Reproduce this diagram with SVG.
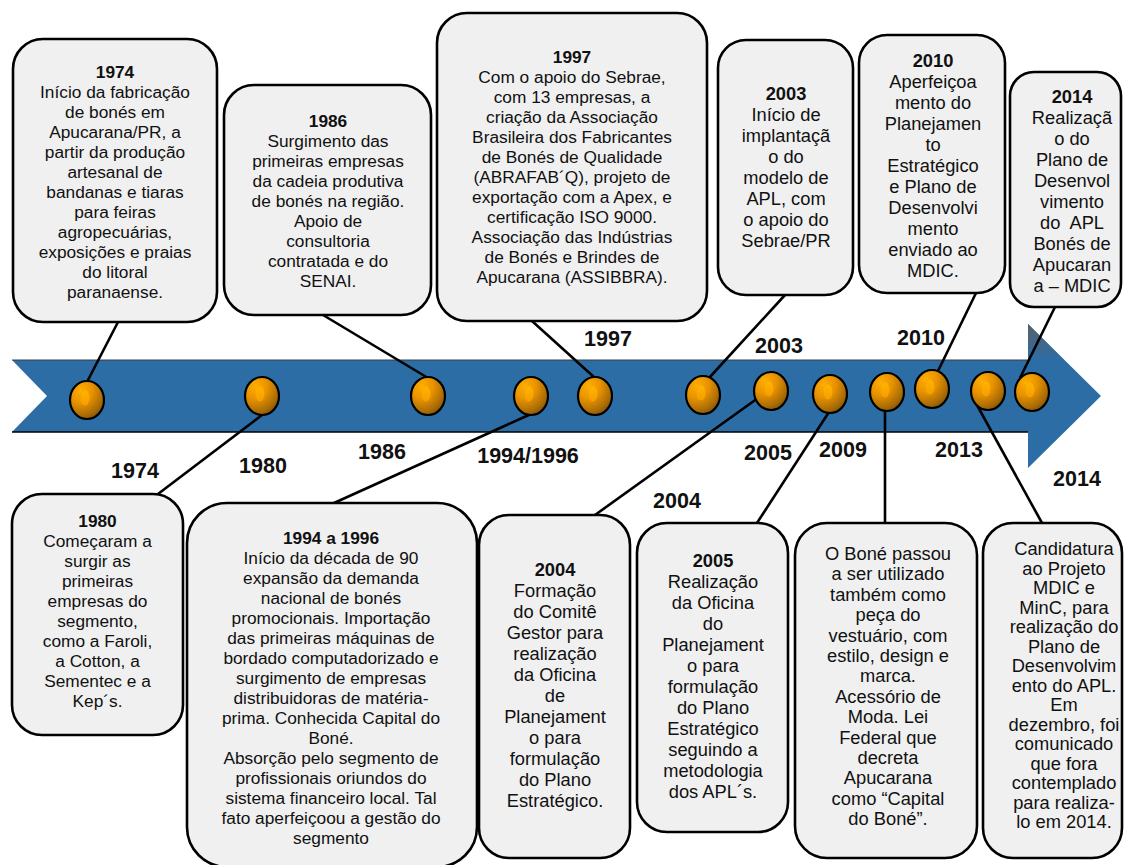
<svg xmlns="http://www.w3.org/2000/svg" width="1124" height="865" viewBox="0 0 1124 865">
  <defs>
    <radialGradient id="bead" cx="0.32" cy="0.25" r="0.85">
      <stop offset="0" stop-color="#FFAE00"/>
      <stop offset="0.4" stop-color="#E89200"/>
      <stop offset="0.8" stop-color="#A66A06"/>
      <stop offset="1" stop-color="#7A4C08"/>
    </radialGradient>
    <linearGradient id="glint" x1="0" y1="0" x2="0" y2="1">
      <stop offset="0" stop-color="#FFB400"/>
      <stop offset="1" stop-color="#F59E00"/>
    </linearGradient>
    <linearGradient id="headShade" x1="0" y1="0" x2="0" y2="1">
      <stop offset="0" stop-color="#5A6068"/>
      <stop offset="1" stop-color="#2D6DA6"/>
    </linearGradient>
    <style>
      .box { fill: #F0F0F0; stroke: #000; stroke-width: 2.6; }
      .link { stroke: #000; stroke-width: 2.6; fill: none; }
      .bead { fill: url(#bead); stroke: #000; stroke-width: 2.2; }
      .glint { fill: url(#glint); }
      .t { font-family: "Liberation Sans", Arial, sans-serif; font-size: 17.3px; text-anchor: middle; fill: #111; white-space: pre; }
      .tn { font-family: "Liberation Sans", Arial, sans-serif; font-size: 18.3px; text-anchor: middle; fill: #111; white-space: pre; }
      .b { font-weight: bold; }
      .yr { font-family: "Liberation Sans", Arial, sans-serif; font-size: 21.5px; font-weight: bold; text-anchor: middle; fill: #111; }
    </style>
  </defs>

  <rect width="1124" height="865" fill="#FFFFFF"/>

  <!-- timeline arrow -->
  <g id="timeline">
    <polygon points="12,360 1028,360 1028,324 1101,396 1028,468 1028,432 12,432 47,396" fill="#2D6DA6"/>
    <polygon points="1028,324 1064,360 1028,360" fill="url(#headShade)"/>
    <line x1="12" y1="360" x2="1028" y2="360" stroke="#3A3F45" stroke-width="1"/>
    <line x1="12" y1="432" x2="1028" y2="432" stroke="#000" stroke-width="1.5"/>
  </g>

  <!-- connectors from beads to event boxes -->
  <g id="connectors">
    <line class="link" x1="118" y1="322" x2="87" y2="382"/>
    <line class="link" x1="262" y1="415" x2="158" y2="494"/>
    <line class="link" x1="323" y1="315" x2="428" y2="378"/>
    <line class="link" x1="531" y1="414" x2="334" y2="503"/>
    <line class="link" x1="595" y1="378" x2="532" y2="321"/>
    <line class="link" x1="709" y1="378" x2="785" y2="295"/>
    <line class="link" x1="758" y1="398" x2="595" y2="515"/>
    <line class="link" x1="829" y1="412" x2="757" y2="523"/>
    <line class="link" x1="885" y1="411" x2="885" y2="523"/>
    <line class="link" x1="938" y1="371" x2="976" y2="293"/>
    <line class="link" x1="972" y1="396" x2="1042" y2="523"/>
    <line class="link" x1="1020" y1="378" x2="1055" y2="307"/>
  </g>

  <!-- beads on the timeline -->
  <g id="beads">
    <g id="bead-1974"><ellipse class="bead" cx="87" cy="400" rx="17" ry="19"/><ellipse class="glint" cx="85" cy="398" rx="4.5" ry="7.5"/></g>
    <g id="bead-1980"><ellipse class="bead" cx="262" cy="396" rx="17" ry="19"/><ellipse class="glint" cx="260" cy="394" rx="4.5" ry="7.5"/></g>
    <g id="bead-1986"><ellipse class="bead" cx="428" cy="396" rx="17" ry="19"/><ellipse class="glint" cx="426" cy="394" rx="4.5" ry="7.5"/></g>
    <g id="bead-1994"><ellipse class="bead" cx="531" cy="396" rx="17" ry="19"/><ellipse class="glint" cx="529" cy="394" rx="4.5" ry="7.5"/></g>
    <g id="bead-1997"><ellipse class="bead" cx="595" cy="396" rx="17" ry="19"/><ellipse class="glint" cx="593" cy="394" rx="4.5" ry="7.5"/></g>
    <g id="bead-2003"><ellipse class="bead" cx="703" cy="395" rx="17" ry="19"/><ellipse class="glint" cx="701" cy="393" rx="4.5" ry="7.5"/></g>
    <g id="bead-2004"><ellipse class="bead" cx="771" cy="391" rx="17" ry="19"/><ellipse class="glint" cx="769" cy="389" rx="4.5" ry="7.5"/></g>
    <g id="bead-2005"><ellipse class="bead" cx="830" cy="394" rx="17" ry="19"/><ellipse class="glint" cx="828" cy="392" rx="4.5" ry="7.5"/></g>
    <g id="bead-2009"><ellipse class="bead" cx="887" cy="392" rx="17" ry="19"/><ellipse class="glint" cx="885" cy="390" rx="4.5" ry="7.5"/></g>
    <g id="bead-2010"><ellipse class="bead" cx="932" cy="389" rx="17" ry="19"/><ellipse class="glint" cx="930" cy="387" rx="4.5" ry="7.5"/></g>
    <g id="bead-2013"><ellipse class="bead" cx="988" cy="391" rx="17" ry="19"/><ellipse class="glint" cx="986" cy="389" rx="4.5" ry="7.5"/></g>
    <g id="bead-2014"><ellipse class="bead" cx="1032" cy="392" rx="17" ry="19"/><ellipse class="glint" cx="1030" cy="390" rx="4.5" ry="7.5"/></g>
  </g>

  <!-- year labels along the arrow -->
  <g id="year-labels">
    <text class="yr" x="135" y="478">1974</text>
    <text class="yr" x="263" y="473">1980</text>
    <text class="yr" x="382" y="459">1986</text>
    <text class="yr" x="528" y="463">1994/1996</text>
    <text class="yr" x="608" y="346">1997</text>
    <text class="yr" x="779" y="353">2003</text>
    <text class="yr" x="677" y="508">2004</text>
    <text class="yr" x="768" y="460">2005</text>
    <text class="yr" x="843" y="457">2009</text>
    <text class="yr" x="921" y="345">2010</text>
    <text class="yr" x="959" y="457">2013</text>
    <text class="yr" x="1077" y="486">2014</text>
  </g>

  <!-- event boxes above the arrow -->
  <g id="box-1974">
    <rect class="box" x="13" y="39" width="204" height="283" rx="30"/>
    <text class="t" x="115" y="78"><tspan class="b">1974</tspan><tspan x="115" dy="20">Início da fabricação</tspan><tspan x="115" dy="20">de bonés em</tspan><tspan x="115" dy="20">Apucarana/PR, a</tspan><tspan x="115" dy="20">partir da produção</tspan><tspan x="115" dy="20">artesanal de</tspan><tspan x="115" dy="20">bandanas e tiaras</tspan><tspan x="115" dy="20">para feiras</tspan><tspan x="115" dy="20">agropecuárias,</tspan><tspan x="115" dy="20">exposições e praias</tspan><tspan x="115" dy="20">do litoral</tspan><tspan x="115" dy="20">paranaense.</tspan></text>
  </g>

  <g id="box-1986">
    <rect class="box" x="224" y="85" width="207" height="230" rx="30"/>
    <text class="t" x="328" y="127"><tspan class="b">1986</tspan><tspan x="328" dy="20">Surgimento das</tspan><tspan x="328" dy="20">primeiras empresas</tspan><tspan x="328" dy="20">da cadeia produtiva</tspan><tspan x="328" dy="20">de bonés na região.</tspan><tspan x="328" dy="20">Apoio de</tspan><tspan x="328" dy="20">consultoria</tspan><tspan x="328" dy="20">contratada e do</tspan><tspan x="328" dy="20">SENAI.</tspan></text>
  </g>

  <g id="box-1997">
    <rect class="box" x="437" y="13" width="270" height="308" rx="30"/>
    <text class="t" x="572" y="63"><tspan class="b">1997</tspan><tspan x="572" dy="20">Com o apoio do Sebrae,</tspan><tspan x="572" dy="20">com 13 empresas, a</tspan><tspan x="572" dy="20">criação da Associação</tspan><tspan x="572" dy="20">Brasileira dos Fabricantes</tspan><tspan x="572" dy="20">de Bonés de Qualidade</tspan><tspan x="572" dy="20">(ABRAFAB´Q), projeto de</tspan><tspan x="572" dy="20">exportação com a Apex, e</tspan><tspan x="572" dy="20">certificação ISO 9000.</tspan><tspan x="572" dy="20">Associação das Indústrias</tspan><tspan x="572" dy="20">de Bonés e Brindes de</tspan><tspan x="572" dy="20">Apucarana (ASSIBBRA).</tspan></text>
  </g>

  <g id="box-2003">
    <rect class="box" x="718" y="40" width="135" height="255" rx="28"/>
    <text class="tn" x="786" y="100"><tspan class="b">2003</tspan><tspan x="786" dy="21">Início de</tspan><tspan x="786" dy="21">implantaçã</tspan><tspan x="786" dy="21">o do</tspan><tspan x="786" dy="21">modelo de</tspan><tspan x="786" dy="21">APL, com</tspan><tspan x="786" dy="21">o apoio do</tspan><tspan x="786" dy="21">Sebrae/PR</tspan></text>
  </g>

  <g id="box-2010">
    <rect class="box" x="859" y="35" width="146" height="258" rx="28"/>
    <text class="tn" x="933" y="67"><tspan class="b">2010</tspan><tspan x="933" dy="21">Aperfeiçoa</tspan><tspan x="933" dy="21">mento do</tspan><tspan x="933" dy="21">Planejamen</tspan><tspan x="933" dy="21">to</tspan><tspan x="933" dy="21">Estratégico</tspan><tspan x="933" dy="21">e Plano de</tspan><tspan x="933" dy="21">Desenvolvi</tspan><tspan x="933" dy="21">mento</tspan><tspan x="933" dy="21">enviado ao</tspan><tspan x="933" dy="21">MDIC.</tspan></text>
  </g>

  <g id="box-2014">
    <rect class="box" x="1010" y="72" width="111" height="235" rx="24"/>
    <text class="tn" x="1072" y="103"><tspan class="b">2014</tspan><tspan x="1072" dy="21">Realizaçã</tspan><tspan x="1072" dy="21">o do</tspan><tspan x="1072" dy="21">Plano de</tspan><tspan x="1072" dy="21">Desenvol</tspan><tspan x="1072" dy="21">vimento</tspan><tspan x="1072" dy="21">do  APL</tspan><tspan x="1072" dy="21">Bonés de</tspan><tspan x="1072" dy="21">Apucaran</tspan><tspan x="1072" dy="21">a – MDIC</tspan></text>
  </g>

  <!-- event boxes below the arrow -->
  <g id="box-1980">
    <rect class="box" x="12" y="494" width="171" height="241" rx="30"/>
    <text class="t" x="97.5" y="527"><tspan class="b">1980</tspan><tspan x="97.5" dy="20">Começaram a</tspan><tspan x="97.5" dy="20">surgir as</tspan><tspan x="97.5" dy="20">primeiras</tspan><tspan x="97.5" dy="20">empresas do</tspan><tspan x="97.5" dy="20">segmento,</tspan><tspan x="97.5" dy="20">como a Faroli,</tspan><tspan x="97.5" dy="20">a Cotton, a</tspan><tspan x="97.5" dy="20">Sementec e a</tspan><tspan x="97.5" dy="20">Kep´s.</tspan></text>
  </g>

  <g id="box-1994">
    <rect class="box" x="187" y="503" width="290" height="364" rx="40"/>
    <text class="t" x="331" y="544"><tspan class="b">1994 a 1996</tspan><tspan x="331" dy="20">Início da década de 90</tspan><tspan x="331" dy="20">expansão da demanda</tspan><tspan x="331" dy="20">nacional de bonés</tspan><tspan x="331" dy="20">promocionais. Importação</tspan><tspan x="331" dy="20">das primeiras máquinas de</tspan><tspan x="331" dy="20">bordado computadorizado e</tspan><tspan x="331" dy="20">surgimento de empresas</tspan><tspan x="331" dy="20">distribuidoras de matéria-</tspan><tspan x="331" dy="20">prima. Conhecida Capital do</tspan><tspan x="331" dy="20">Boné.</tspan><tspan x="331" dy="20">Absorção pelo segmento de</tspan><tspan x="331" dy="20">profissionais oriundos do</tspan><tspan x="331" dy="20">sistema financeiro local. Tal</tspan><tspan x="331" dy="20">fato aperfeiçoou a gestão do</tspan><tspan x="331" dy="20">segmento</tspan></text>
  </g>

  <g id="box-2004">
    <rect class="box" x="479" y="515" width="151" height="343" rx="30"/>
    <text class="tn" x="555" y="576"><tspan class="b">2004</tspan><tspan x="555" dy="21">Formação</tspan><tspan x="555" dy="21">do Comitê</tspan><tspan x="555" dy="21">Gestor para</tspan><tspan x="555" dy="21">realização</tspan><tspan x="555" dy="21">da Oficina</tspan><tspan x="555" dy="21">de</tspan><tspan x="555" dy="21">Planejament</tspan><tspan x="555" dy="21">o para</tspan><tspan x="555" dy="21">formulação</tspan><tspan x="555" dy="21">do Plano</tspan><tspan x="555" dy="21">Estratégico.</tspan></text>
  </g>

  <g id="box-2005">
    <rect class="box" x="637" y="523" width="151" height="309" rx="30"/>
    <text class="tn" x="713" y="567"><tspan class="b">2005</tspan><tspan x="713" dy="21">Realização</tspan><tspan x="713" dy="21">da Oficina</tspan><tspan x="713" dy="21">do</tspan><tspan x="713" dy="21">Planejament</tspan><tspan x="713" dy="21">o para</tspan><tspan x="713" dy="21">formulação</tspan><tspan x="713" dy="21">do Plano</tspan><tspan x="713" dy="21">Estratégico</tspan><tspan x="713" dy="21">seguindo a</tspan><tspan x="713" dy="21">metodologia</tspan><tspan x="713" dy="21">dos APL´s.</tspan></text>
  </g>

  <g id="box-2009">
    <rect class="box" x="795" y="523" width="182" height="335" rx="32"/>
    <text class="tn" x="888" y="560"><tspan>O Boné passou</tspan><tspan x="888" dy="20.4">a ser utilizado</tspan><tspan x="888" dy="20.4">também como</tspan><tspan x="888" dy="20.4">peça do</tspan><tspan x="888" dy="20.4">vestuário, com</tspan><tspan x="888" dy="20.4">estilo, design e</tspan><tspan x="888" dy="20.4">marca.</tspan><tspan x="888" dy="20.4">Acessório de</tspan><tspan x="888" dy="20.4">Moda. Lei</tspan><tspan x="888" dy="20.4">Federal que</tspan><tspan x="888" dy="20.4">decreta</tspan><tspan x="888" dy="20.4">Apucarana</tspan><tspan x="888" dy="20.4">como “Capital</tspan><tspan x="888" dy="20.4">do Boné”.</tspan></text>
  </g>

  <g id="box-2013">
    <rect class="box" x="983" y="523" width="139" height="335" rx="30"/>
    <text class="tn" x="1064" y="555"><tspan>Candidatura</tspan><tspan x="1064" dy="19.5">ao Projeto</tspan><tspan x="1064" dy="19.5">MDIC e</tspan><tspan x="1064" dy="19.5">MinC, para</tspan><tspan x="1064" dy="19.5">realização do</tspan><tspan x="1064" dy="19.5">Plano de</tspan><tspan x="1064" dy="19.5">Desenvolvim</tspan><tspan x="1064" dy="19.5">ento do APL.</tspan><tspan x="1064" dy="19.5">Em</tspan><tspan x="1064" dy="19.5">dezembro, foi</tspan><tspan x="1064" dy="19.5">comunicado</tspan><tspan x="1064" dy="19.5">que fora</tspan><tspan x="1064" dy="19.5">contemplado</tspan><tspan x="1064" dy="19.5">para realiza-</tspan><tspan x="1064" dy="19.5">lo em 2014.</tspan></text>
  </g>
</svg>
